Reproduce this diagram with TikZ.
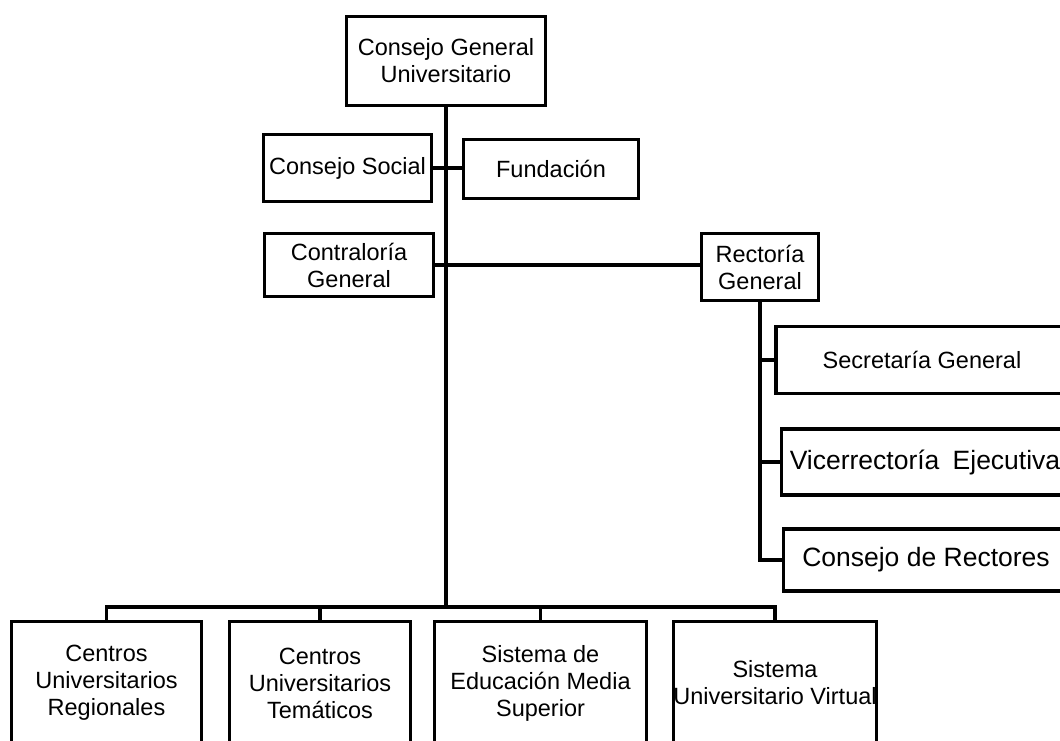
\documentclass[tikz,border=0pt]{standalone}
\usepackage{fontspec}
\setmainfont{Liberation Sans}
\tikzset{
  unit/.style={draw, line width=3.5pt, inner sep=0pt, align=center,
    font=\fontsize{23.5}{27}\selectfont},
  bigtext/.style={font=\fontsize{26.5}{30}\selectfont},
  link/.style={line width=3.5pt}
}
\begin{document}
\begin{tikzpicture}[x=1pt, y=-1pt]
    \useasboundingbox (0,0) rectangle (1060,741);

    % top of the chart
    \node[unit, minimum width=199pt, minimum height=89pt] (cgu) at (446,61) {Consejo General\\Universitario};
    \node[unit, minimum width=168pt, minimum height=67pt] (cs) at (347.5,168) {Consejo Social};
    \node[unit, minimum width=175pt, minimum height=59pt] (fun) at (551,169) {Fundación};
    \node[unit, minimum width=169pt, minimum height=63pt] (cg) at (349,265) {Contraloría\\General};
    \node[unit, minimum width=117pt, minimum height=67pt] (rg) at (760,267) {Rectoría\\General};

    % under the rector
    \node[unit, minimum width=292pt, minimum height=67pt] (sg) at (922,360) {Secretaría General};
    \node[unit, bigtext, minimum width=287pt, minimum height=66pt] (ve) at (925,462) {Vicerrectoría\enspace Ejecutiva};
    \node[unit, bigtext, minimum width=285pt, minimum height=62pt] (cr) at (926,560) {Consejo de Rectores};

    % bottom row
    \node[unit, minimum width=190pt, minimum height=123pt] (cur) at (106.5,683) {Centros\\Universitarios\\Regionales};
    \node[unit, minimum width=181pt, minimum height=123pt] (cut) at (320,683) {Centros\\Universitarios\\Temáticos};
    \node[unit, minimum width=212pt, minimum height=123pt] (sems) at (540.5,683) {Sistema de\\Educación Media\\Superior};
    \node[unit, minimum width=203pt, minimum height=123pt] (suv) at (775,683) {Sistema\\Universitario Virtual};
    \coordinate (bus) at (448,607);

    % connectors
    \draw[link] (cgu.south) -- (cgu.south |- bus);
    \draw[link] (cs.east) -- (cs.east -| fun.west);
    \draw[link] (cg.east) -- (cg.east -| rg.west);
    \draw[link] (rg.south) |- (cr.west);
    \draw[link] (rg.south |- sg.west) -- (sg.west);
    \draw[link] (rg.south |- ve.west) -- (ve.west);
    \draw[link] (cur.north) |- (bus) -| (suv.north);
    \draw[link] (cut.north) -- (cut.north |- bus);
    \draw[link] (sems.north) -- (sems.north |- bus);
\end{tikzpicture}
\end{document}
